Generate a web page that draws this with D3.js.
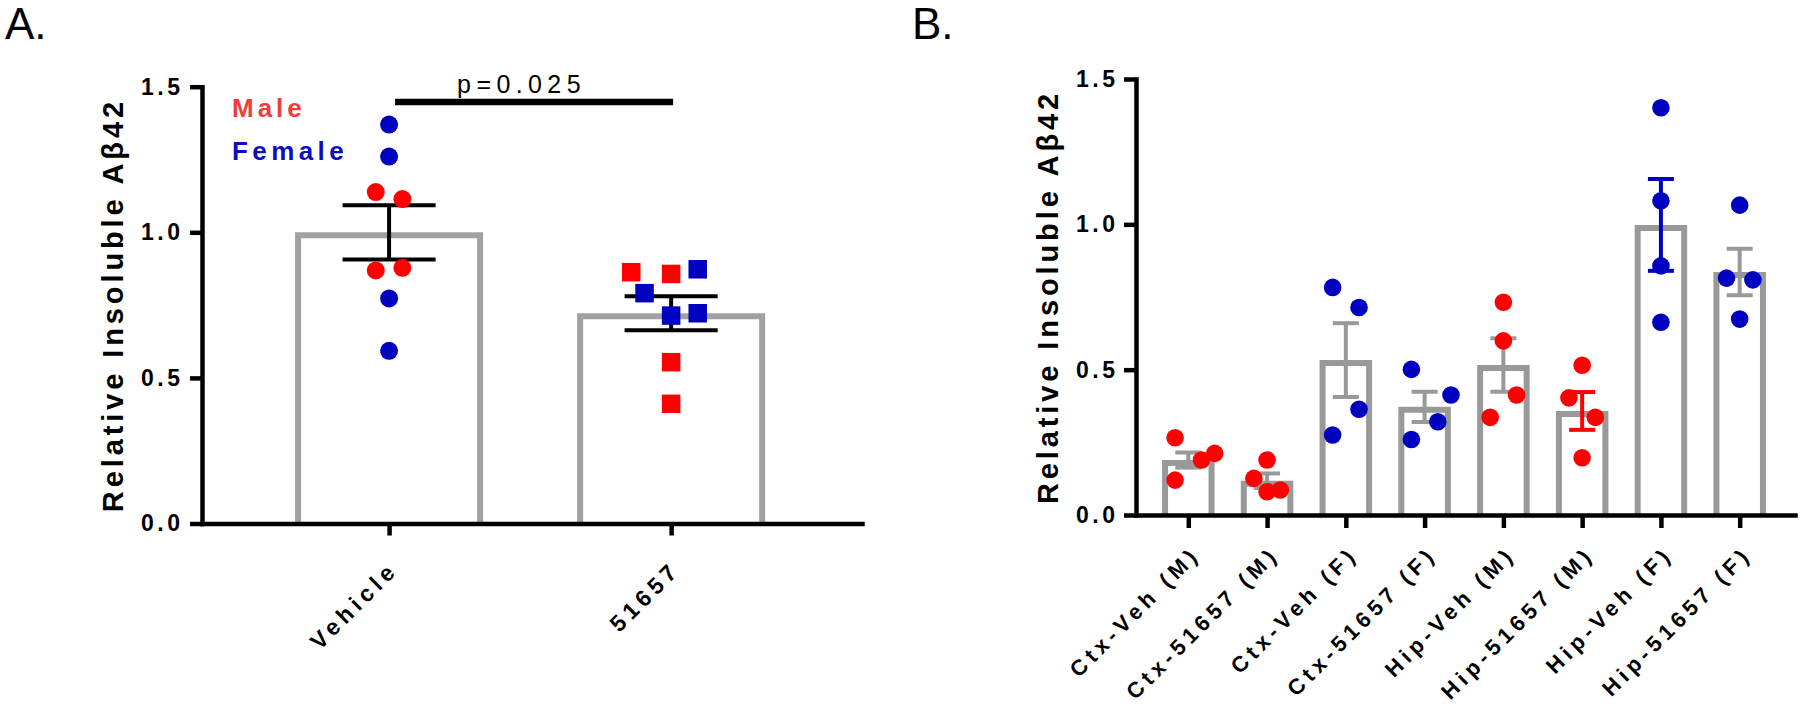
<!DOCTYPE html>
<html><head><meta charset="utf-8">
<script src="https://cdn.jsdelivr.net/npm/d3@7"></script>
<style>
html,body{margin:0;padding:0;background:#fff;}
svg{display:block;font-family:"Liberation Sans",Arial,sans-serif;}
</style></head><body>
<svg id="chart" width="1800" height="710"></svg>
<script>
// ---------- Data: panel A ----------
const catsA = ["Vehicle", "51657"];
const meansA = [1.000, 0.722];
const semsA = [0.093, 0.058];
const valuesA = [
  [1.370, 1.260, 1.138, 1.114, 0.869, 0.878, 0.773, 0.593],
  [0.863, 0.857, 0.873, 0.791, 0.714, 0.722, 0.554, 0.411]
];
const sexA = [
  ["F", "F", "M", "M", "M", "M", "F", "F"],
  ["M", "M", "F", "F", "F", "F", "M", "M"]
];
const jitterA = [
  [0, 0, -1, 1, -1, 1, 0, 0],
  [-3, 0, 2, -2, 0, 2, 0, 0]
];
const pLabel = "p=0.025";
const legendLabels = ["Male", "Female"];

// ---------- Data: panel B ----------
const catsB = ["Ctx-Veh (M)", "Ctx-51657 (M)", "Ctx-Veh (F)", "Ctx-51657 (F)",
               "Hip-Veh (M)", "Hip-51657 (M)", "Hip-Veh (F)", "Hip-51657 (F)"];
const meansB = [0.189, 0.118, 0.533, 0.372, 0.516, 0.358, 0.998, 0.836];
const semsB  = [0.026, 0.025, 0.127, 0.052, 0.092, 0.065, 0.158, 0.080];
const valuesB = [
  [0.266, 0.189, 0.212, 0.120],
  [0.189, 0.126, 0.080, 0.086],
  [0.783, 0.714, 0.364, 0.275],
  [0.501, 0.413, 0.321, 0.260],
  [0.732, 0.599, 0.413, 0.336],
  [0.515, 0.403, 0.336, 0.197],
  [1.401, 1.081, 0.857, 0.663],
  [1.066, 0.815, 0.809, 0.674]
];
const jitterB = [
  [-1, 1, 2, -1], [0, -1, 0, 1], [-1, 1, 1, -1], [-1, 2, 1, -1],
  [0, 0, 1, -1], [0, -1, 1, 0], [0, 0, 0, 0], [0, -1, 1, 0]
];
const sexB = ["M", "M", "F", "F", "M", "M", "F", "F"];
const errKeyB = ["gray", "gray", "gray", "gray", "gray", "M", "F", "gray"];

const yTicks = [0, 0.5, 1.0, 1.5];
const yTitle = "Relative Insoluble A\u03B242";

// ---------- Styles ----------
const colors = { M: "#ff0000", F: "#0000c0", gray: "#999999" };
const legendColors = { M: "#f03c3c", F: "#0c0cc4" };
const FONT = '"Liberation Sans", Arial, sans-serif';
const svg = d3.select("#chart");

function styleYAxis(g, sp) {
  g.select(".domain").attr("stroke", "#000").attr("stroke-width", 4.5).attr("stroke-linecap", "square");
  g.selectAll(".tick line").attr("stroke", "#000").attr("stroke-width", 4.5);
  g.selectAll(".tick text").attr("fill", "#000").attr("font-size", 23).attr("font-weight", "bold")
    .attr("font-family", FONT).style("letter-spacing", sp + "px").attr("dx", sp);
}
function styleXAxis(g) {
  g.select(".domain").attr("stroke", "#000").attr("stroke-width", 4.5).attr("stroke-linecap", "square");
  g.selectAll(".tick line").attr("stroke", "#000").attr("stroke-width", 4.5);
}

// ---------- Panel labels ----------
svg.append("text").attr("x", 5).attr("y", 39).attr("font-size", 44).attr("font-family", FONT).text("A.");
svg.append("text").attr("x", 912).attr("y", 39).attr("font-size", 44).attr("font-family", FONT).text("B.");

// ---------- Panel A ----------
(function () {
  const x0 = 202, x1 = 862, yBot = 523.5, yTop = 86.7;
  const x = d3.scalePoint().domain(catsA).range([x0, x1]).padding(0.67).align(0.495);
  const y = d3.scaleLinear().domain([0, 1.5]).range([yBot, yTop]);
  const step = x.step();
  const bw = step * 2 / 3, sw = 6, cap = step * 0.33, jit = 13.3;
  const g = svg.append("g");

  g.selectAll("path.bar").data(catsA).join("path")
    .attr("d", (c, i) => {
      const cx = x(c), hw = bw / 2 - sw / 2, top = y(meansA[i]) + sw / 2, bot = y(0);
      return `M${cx - hw},${bot}V${top}H${cx + hw}V${bot}`;
    })
    .attr("fill", "#fff").attr("stroke", "#a1a1a5").attr("stroke-width", sw);

  catsA.forEach((c, i) => {
    const cx = x(c), hi = y(meansA[i] + semsA[i]), lo = y(meansA[i] - semsA[i]);
    const eg = g.append("g").attr("stroke", "#000").attr("stroke-width", 4);
    eg.append("line").attr("x1", cx).attr("x2", cx).attr("y1", hi).attr("y2", lo);
    eg.append("line").attr("x1", cx - cap / 2).attr("x2", cx + cap / 2).attr("y1", hi).attr("y2", hi);
    eg.append("line").attr("x1", cx - cap / 2).attr("x2", cx + cap / 2).attr("y1", lo).attr("y2", lo);
  });

  catsA.forEach((c, i) => {
    const pts = valuesA[i].map((v, k) => ({ v, s: sexA[i][k], j: jitterA[i][k] }));
    if (i === 0) {
      g.selectAll(null).data(pts).join("circle")
        .attr("cx", d => x(c) + d.j * jit).attr("cy", d => y(d.v)).attr("r", 9)
        .attr("fill", d => colors[d.s]);
    } else {
      const s = 18.5;
      g.selectAll(null).data(pts).join("rect")
        .attr("x", d => x(c) + d.j * jit - s / 2).attr("y", d => y(d.v) - s / 2)
        .attr("width", s).attr("height", s).attr("fill", d => colors[d.s]);
    }
  });

  g.append("line").attr("x1", x(catsA[0]) + 6).attr("x2", x(catsA[1]) + 2)
    .attr("y1", 102).attr("y2", 102).attr("stroke", "#000").attr("stroke-width", 6.5);
  g.append("text").attr("x", x(catsA[0]) + 68).attr("y", 93).attr("font-size", 25)
    .attr("font-family", FONT).style("letter-spacing", "5.4px").text(pLabel);

  g.append("text").attr("x", 232).attr("y", 117).attr("font-size", 26).attr("font-weight", "bold")
    .attr("font-family", FONT).style("letter-spacing", "4px").attr("fill", legendColors.M).text(legendLabels[0]);
  g.append("text").attr("x", 232).attr("y", 159.5).attr("font-size", 26).attr("font-weight", "bold")
    .attr("font-family", FONT).style("letter-spacing", "4.4px").attr("fill", legendColors.F).text(legendLabels[1]);

  const ya = g.append("g").attr("transform", `translate(${x0},0)`)
    .call(d3.axisLeft(y).tickValues(yTicks).tickFormat(d3.format(".1f")).tickSize(12).tickSizeOuter(0).tickPadding(10));
  styleYAxis(ya, 3.5);
  const xa = g.append("g").attr("transform", `translate(0,${yBot})`)
    .call(d3.axisBottom(x).tickSize(12).tickSizeOuter(0).tickFormat(""));
  styleXAxis(xa);

  const sp = 4.8;
  g.selectAll("text.xl").data(catsA).join("text").attr("class", "xl")
    .attr("transform", c => `translate(${x(c) + 7},${yBot + 51}) rotate(-45)`)
    .attr("text-anchor", "end").attr("x", sp)
    .attr("font-size", 23).attr("font-weight", "bold").attr("font-family", FONT)
    .style("letter-spacing", sp + "px").text(c => c);

  g.append("text").attr("transform", `translate(123,${(yBot + yTop) / 2}) rotate(-90)`)
    .attr("text-anchor", "middle").attr("font-size", 29).attr("font-weight", "bold")
    .attr("font-family", FONT).style("letter-spacing", "3.9px").text(yTitle);
})();

// ---------- Panel B ----------
(function () {
  const x0 = 1136, x1 = 1795, yBot = 515, yTop = 79;
  const x = d3.scalePoint().domain(catsB).range([x0, x1]).padding(0.683).align(0.486);
  const y = d3.scaleLinear().domain([0, 1.5]).range([yBot, yTop]);
  const step = x.step();
  const bw = step * 2 / 3, sw = 6, cap = step * 0.33, jit = 13.2;
  const g = svg.append("g");

  g.selectAll("path.bar").data(catsB).join("path")
    .attr("d", (c, i) => {
      const cx = x(c), hw = bw / 2 - sw / 2, top = y(meansB[i]) + sw / 2, bot = y(0);
      return `M${cx - hw},${bot}V${top}H${cx + hw}V${bot}`;
    })
    .attr("fill", "#fff").attr("stroke", colors.gray).attr("stroke-width", sw);

  catsB.forEach((c, i) => {
    const cx = x(c), hi = y(meansB[i] + semsB[i]), lo = y(meansB[i] - semsB[i]);
    const eg = g.append("g").attr("stroke", colors[errKeyB[i]]).attr("stroke-width", 4);
    eg.append("line").attr("x1", cx).attr("x2", cx).attr("y1", hi).attr("y2", lo);
    eg.append("line").attr("x1", cx - cap / 2).attr("x2", cx + cap / 2).attr("y1", hi).attr("y2", hi);
    eg.append("line").attr("x1", cx - cap / 2).attr("x2", cx + cap / 2).attr("y1", lo).attr("y2", lo);
  });

  catsB.forEach((c, i) => {
    const pts = valuesB[i].map((v, k) => ({ v, j: jitterB[i][k] }));
    g.selectAll(null).data(pts).join("circle")
      .attr("cx", d => x(c) + d.j * jit).attr("cy", d => y(d.v)).attr("r", 8.8)
      .attr("fill", colors[sexB[i]]);
  });

  const ya = g.append("g").attr("transform", `translate(${x0},0)`)
    .call(d3.axisLeft(y).tickValues(yTicks).tickFormat(d3.format(".1f")).tickSize(12).tickSizeOuter(0).tickPadding(9));
  styleYAxis(ya, 3.5);
  const xa = g.append("g").attr("transform", `translate(0,${yBot})`)
    .call(d3.axisBottom(x).tickSize(13).tickSizeOuter(0).tickFormat(""));
  styleXAxis(xa);

  const sp = 4.8;
  g.selectAll("text.xl").data(catsB).join("text").attr("class", "xl")
    .attr("transform", c => `translate(${x(c) + 10},${yBot + 44}) rotate(-45)`)
    .attr("text-anchor", "end").attr("x", sp)
    .attr("font-size", 22).attr("font-weight", "bold").attr("font-family", FONT)
    .style("letter-spacing", sp + "px").text(c => c);

  g.append("text").attr("transform", `translate(1058,${(yBot + yTop) / 2}) rotate(-90)`)
    .attr("text-anchor", "middle").attr("font-size", 29).attr("font-weight", "bold")
    .attr("font-family", FONT).style("letter-spacing", "3.9px").text(yTitle);
})();
</script>
</body></html>
